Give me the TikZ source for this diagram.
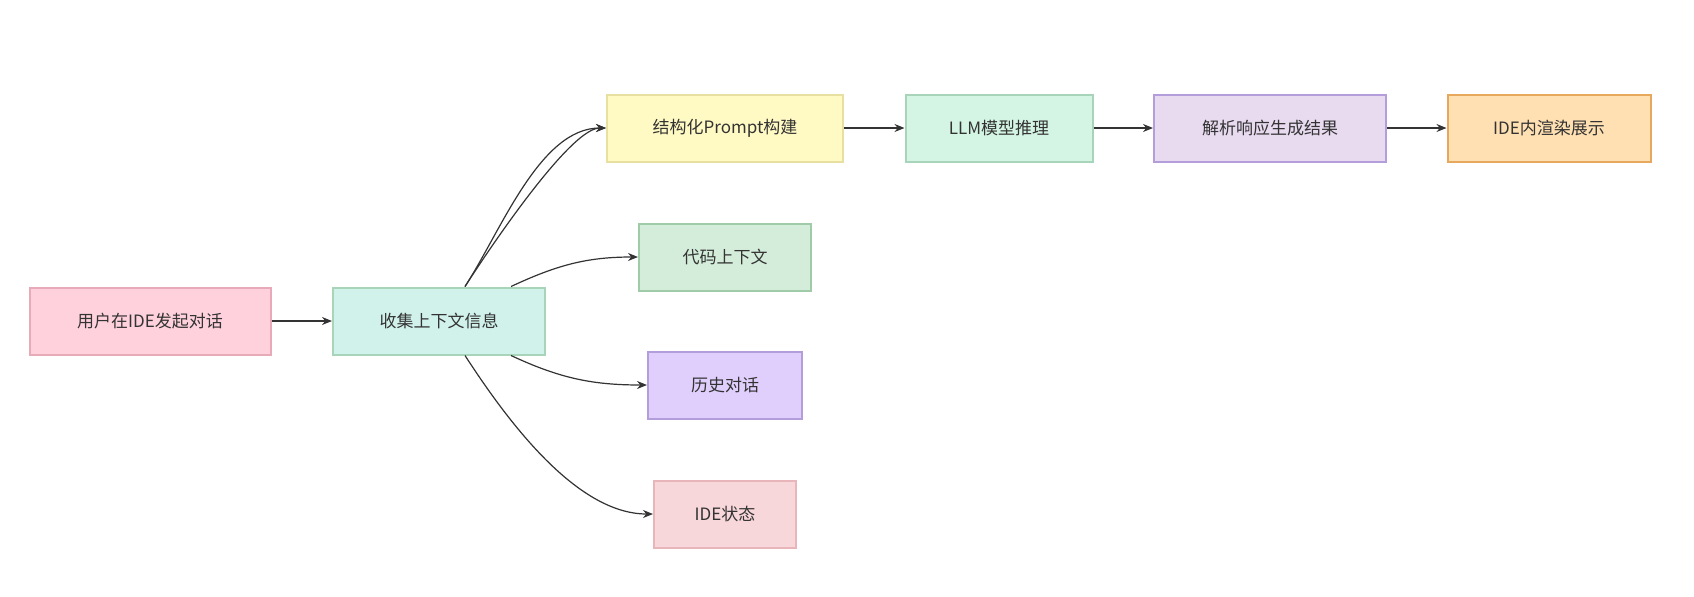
\documentclass[tikz,border=0pt]{standalone}
\usepackage{fontspec}
\setmainfont{Noto Sans CJK SC}
\usetikzlibrary{arrows.meta}
\definecolor{edgegray}{HTML}{333333}
\tikzset{
  box/.style={draw, line width=1pt, minimum height=33.5pt, inner sep=0pt, font=\fontsize{8.5}{10}\selectfont, text=edgegray},
  link/.style={draw=edgegray, line width=0.6pt, -{Stealth[length=5pt,width=4pt]}}
}
\begin{document}
\begin{tikzpicture}[x=0.5pt,y=-0.5pt]
  \useasboundingbox (0,0) rectangle (1694,596);
  % Nodes
  \node [box, fill={rgb,255:red,255;green,209;blue,220}, draw={rgb,255:red,232;green,170;blue,185}, minimum width=120.5pt] (start) at (150,321) {用户在IDE发起对话};
  \node [box, fill={rgb,255:red,209;green,242;blue,235}, draw={rgb,255:red,168;green,213;blue,186}, minimum width=106pt] (collect) at (439,321) {收集上下文信息};
  \node [box, fill={rgb,255:red,255;green,249;blue,196}, draw={rgb,255:red,232;green,224;blue,160}, minimum width=118pt] (prompt) at (725,128) {结构化Prompt构建};
  \node [box, fill={rgb,255:red,212;green,245;blue,228}, draw={rgb,255:red,168;green,213;blue,186}, minimum width=93.5pt] (llm) at (999,128) {LLM模型推理};
  \node [box, fill={rgb,255:red,232;green,218;blue,239}, draw={rgb,255:red,179;green,157;blue,219}, minimum width=116pt] (parse) at (1270,128) {解析响应生成结果};
  \node [box, fill={rgb,255:red,255;green,224;blue,178}, draw={rgb,255:red,230;green,168;blue,92}, minimum width=101.5pt] (render) at (1549,128) {IDE内渲染展示};
  \node [box, fill={rgb,255:red,212;green,237;blue,218}, draw={rgb,255:red,159;green,203;blue,168}, minimum width=86pt] (code) at (725,257) {代码上下文};
  \node [box, fill={rgb,255:red,224;green,207;blue,252}, draw={rgb,255:red,179;green,157;blue,219}, minimum width=77pt] (history) at (725,385) {历史对话};
  \node [box, fill={rgb,255:red,248;green,215;blue,218}, draw={rgb,255:red,232;green,181;blue,186}, minimum width=71pt] (idestate) at (725,514) {IDE状态};
  % Connectors
  \draw [link] (start) -- (collect);
  \draw [link] ([xshift=13pt]collect.north) .. controls +(0,-0) and +(-40,0) .. (prompt.west);
  \draw [link] ([xshift=13pt]collect.north) to[out=57,in=180,looseness=0.8] (prompt.west);
  \draw [link] ([xshift=36pt]collect.north) to[out=25,in=180] (code.west);
  \draw [link] ([xshift=36pt]collect.south) to[out=-25,in=180] (history.west);
  \draw [link] ([xshift=13pt]collect.south) to[out=-57,in=180,looseness=0.8] (idestate.west);
  \draw [link] (prompt) -- (llm);
  \draw [link] (llm) -- (parse);
  \draw [link] (parse) -- (render);
\end{tikzpicture}
\end{document}
